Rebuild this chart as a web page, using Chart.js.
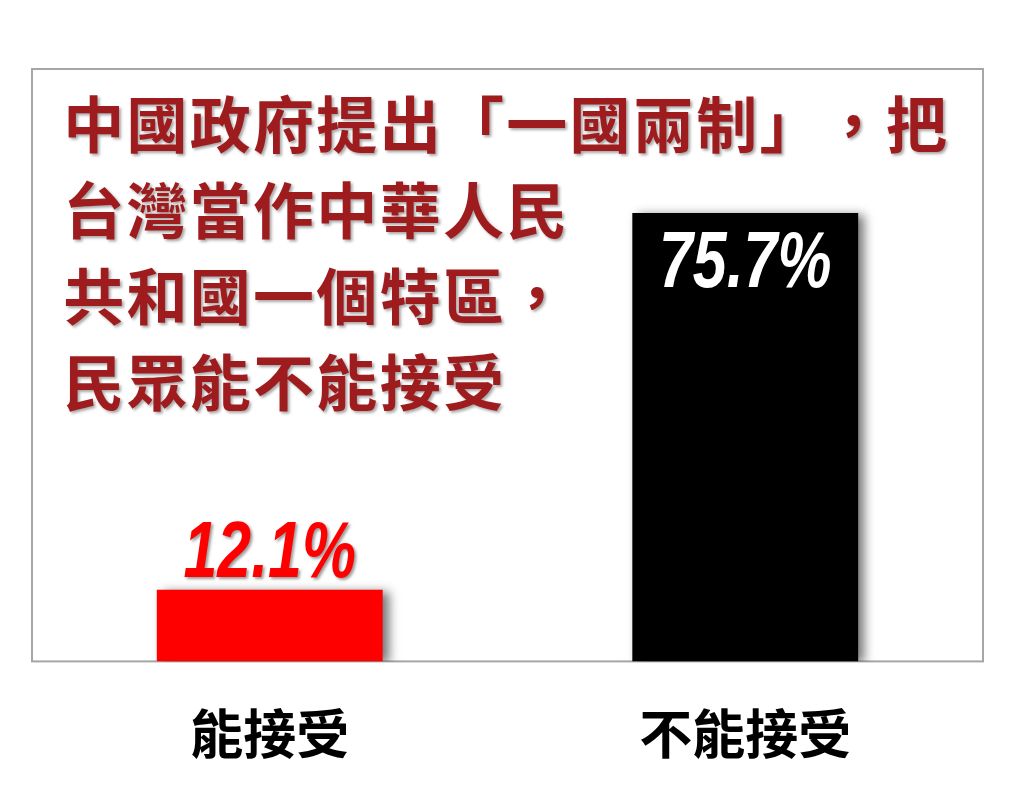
<!DOCTYPE html>
<html><head><meta charset="utf-8">
<script src="https://cdn.jsdelivr.net/npm/chart.js@4.4.0/dist/chart.umd.min.js"></script>
<style>html,body{margin:0;padding:0;background:#fff;} #wrap{width:1024px;height:802px;}</style>
</head><body><div id="wrap"><canvas id="c"></canvas></div>
<script>
const categories = ['能接受', '不能接受'];
const values = [12.1, 75.7];
const barColors = ['#FF0000', '#000000'];
const valueLabelColors = ['#FF0000', '#FFFFFF'];
const titleLines = ['中國政府提出「一國兩制」，把', '台灣當作中華人民', '共和國一個特區，', '民眾能不能接受'];
const yMin = 0;
const yMax = 100;

const CJK = "'Noto Sans CJK TC', 'Noto Sans CJK SC', sans-serif";
const NUM = "'Liberation Sans', Arial, sans-serif";

const framePlugin = {
  id: 'frame',
  beforeDatasetsDraw(chart) {
    const {ctx, chartArea: a} = chart;
    ctx.save();
    ctx.strokeStyle = '#A6A6A6';
    ctx.lineWidth = 2;
    ctx.strokeRect(a.left, a.top, a.right - a.left, a.bottom - a.top);
    ctx.restore();
    ctx.save();
    ctx.shadowColor = 'rgba(0,0,0,0.55)';
    ctx.shadowBlur = 10;
    ctx.shadowOffsetX = 6;
    ctx.shadowOffsetY = 2;
  },
  afterDatasetsDraw(chart) {
    chart.ctx.restore();
  },
  afterDraw(chart) {
    const {ctx, chartArea: a} = chart;
    // value labels
    const meta = chart.getDatasetMeta(0);
    meta.data.forEach((bar, i) => {
      const h = bar.base - bar.y;
      const txt = values[i].toFixed(1) + '%';
      const y = h > 120 ? bar.y + 74 : bar.y - 13;
      ctx.save();
      ctx.translate(bar.x, y);
      ctx.scale(0.76, 1);
      ctx.font = "italic bold 80px " + NUM;
      ctx.textAlign = 'center';
      ctx.textBaseline = 'alphabetic';
      ctx.shadowColor = 'rgba(0,0,0,0.4)';
      ctx.shadowBlur = 3;
      ctx.shadowOffsetX = 2;
      ctx.shadowOffsetY = 2;
      ctx.fillStyle = valueLabelColors[i];
      ctx.fillText(txt, 0, 0);
      ctx.restore();
    });
    // title text
    ctx.save();
    ctx.font = "bold 61px " + CJK;
    ctx.fillStyle = '#9E1B1E';
    ctx.textAlign = 'center';
    ctx.textBaseline = 'middle';
    ctx.shadowColor = 'rgba(0,0,0,0.35)';
    ctx.shadowBlur = 3;
    ctx.shadowOffsetX = 2;
    ctx.shadowOffsetY = 2;
    const adv = 63.3;
    const x0 = a.left + 30;
    titleLines.forEach((line, li) => {
      const cy = a.top + 56 + li * 86;
      Array.from(line).forEach((ch, ci) => {
        ctx.fillText(ch, x0 + ci * adv + adv / 2, cy);
      });
    });
    ctx.restore();
  }
};

new Chart(document.getElementById('c'), {
  type: 'bar',
  data: {
    labels: categories,
    datasets: [{
      data: values,
      backgroundColor: barColors,
      borderWidth: 0,
      categoryPercentage: 1,
      barPercentage: 0.475
    }]
  },
  options: {
    responsive: true,
    maintainAspectRatio: false,
    animation: false,
    events: [],
    layout: { padding: { left: 32, right: 41, top: 69, bottom: -5 } },
    plugins: { legend: { display: false }, tooltip: { enabled: false }, title: { display: false } },
    scales: {
      x: {
        grid: { display: false, drawTicks: false },
        border: { display: false },
        ticks: {
          color: '#000',
          padding: 41,
          font: { family: CJK, size: 53, weight: 'bold' }
        }
      },
      y: {
        display: false,
        min: yMin,
        max: yMax
      }
    }
  },
  plugins: [framePlugin]
});
</script>
</body></html>
